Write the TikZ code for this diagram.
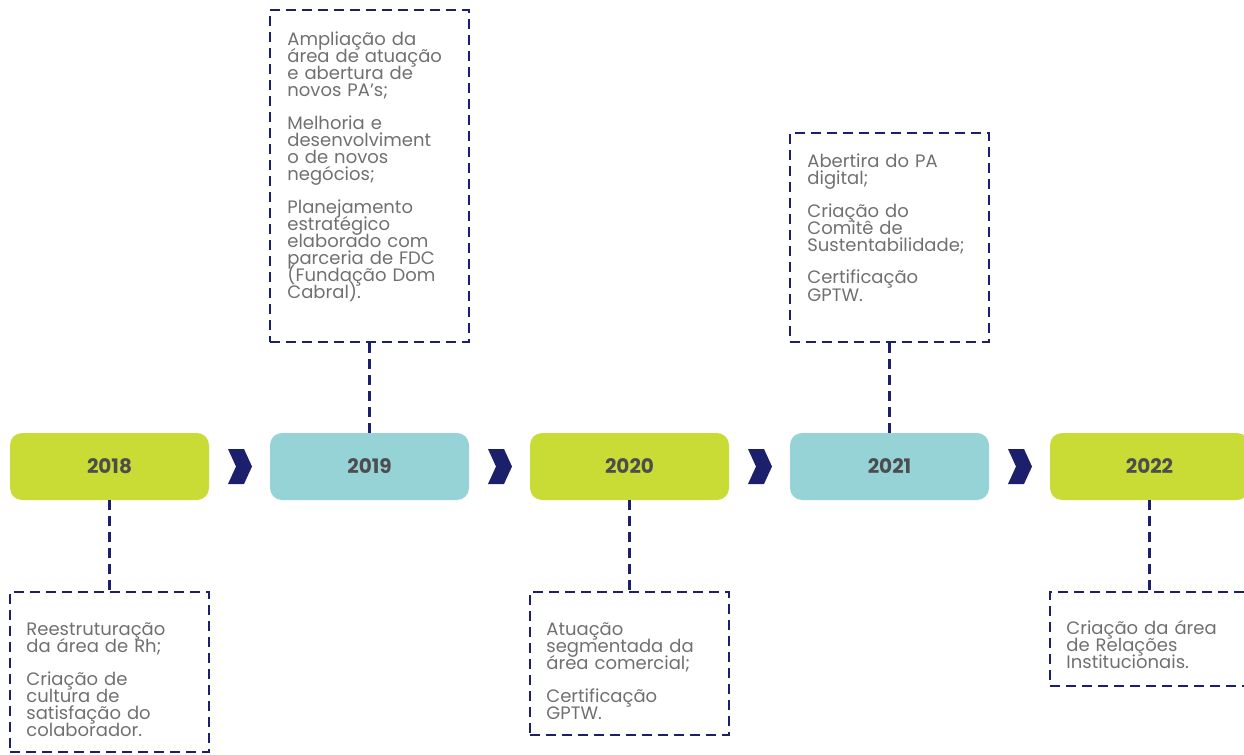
\documentclass[tikz,border=0pt]{standalone}
\usepackage{fontspec}
\setmainfont{Poppins}
\usetikzlibrary{positioning}

\definecolor{limegreen}{HTML}{C9DC35}
\definecolor{tealbox}{HTML}{95D3D6}
\definecolor{navyline}{HTML}{1B1F6C}
\definecolor{yeargray}{HTML}{4D4D4D}
\definecolor{bodygray}{HTML}{707070}

\begin{document}
\begin{tikzpicture}[x=0.5pt,y=-0.5pt,
    dashbox/.style={draw=navyline,line width=1.25pt,dash pattern=on 5pt off 3pt,minimum width=99.5pt},
    link/.style={draw=navyline,line width=1.25pt,dash pattern=on 5pt off 3pt},
    txt/.style={anchor=base west,inner sep=0pt,align=left,text width=98pt,text=bodygray,
        font=\fontsize{9}{8.5}\selectfont,execute at begin node={\lineskiplimit=-20pt}}]
        \useasboundingbox (0,0) rectangle (1244,755);

        % year boxes
        \begin{scope}[every node/.style={rounded corners=6pt,minimum width=99.5pt,minimum height=33.5pt,
            text=yeargray,font=\fontsize{10}{12}\selectfont\bfseries}]
            \node[fill=limegreen] (y2018) at (109.5,466.5) {2018};
            \node[fill=tealbox] (y2019) at (369.5,466.5) {2019};
            \node[fill=limegreen] (y2020) at (629.5,466.5) {2020};
            \node[fill=tealbox] (y2021) at (889.5,466.5) {2021};
            \node[fill=limegreen] (y2022) at (1149.5,466.5) {2022};
        \end{scope}

        % chevrons
        \foreach \cx in {240,500,760,1020}
            \fill[navyline] (\cx-12,449) -- (\cx+4,449) -- (\cx+12,466.5) -- (\cx+4,484)
                -- (\cx-12,484) -- (\cx-4,466.5) -- cycle;

        % dashed boxes
        \node[dashbox,minimum height=166pt] (b2019) at (369.5,176) {};
        \node[dashbox,minimum height=104.5pt] (b2021) at (889.5,237.5) {};
        \node[dashbox,minimum height=80pt] (b2018) at (109.5,672) {};
        \node[dashbox,minimum height=71.5pt] (b2020) at (629.5,663.5) {};
        \node[dashbox,minimum height=47pt,minimum width=105pt] (b2022) at (1155,639) {};

        % connectors
        \path[link] (b2019.south) -- (y2019.north);
        \path[link] (b2021.south) -- (y2021.north);
        \path[link] (y2018.south) -- (b2018.north);
        \path[link] (y2020.south) -- (b2020.north);
        \path[link] (y2022.south) -- (y2022.south |- b2022.north);

        % texts
        \node[txt] (t2019) at (287,46) {Ampliação da\\ área de atuação\\ e abertura de\\ novos PA’s;\\[8pt]
            Melhoria e\\ desenvolviment\\ o de novos\\ negócios;\\[8pt]
            Planejamento\\ estratégico\\ elaborado com\\ parceria de FDC\\ (Fundação Dom\\ Cabral).};
        \node[txt] (t2021) at (807,167) {Abertira do PA\\ digital;\\[8pt]
            Criação do\\ Comitê de\\ Sustentabilidade;\\[8pt]
            Certificação\\ GPTW.};
        \node[txt] (t2018) at (26,635) {Reestruturação\\ da área de Rh;\\[8pt]
            Criação de\\ cultura de\\ satisfação do\\ colaborador.};
        \node[txt] (t2020) at (546,635) {Atuação\\ segmentada da\\ área comercial;\\[8pt]
            Certificação\\ GPTW.};
        \node[txt] (t2022) at (1066,634) {Criação da área\\ de Relações\\ Institucionais.};
    \end{tikzpicture}
\end{document}
